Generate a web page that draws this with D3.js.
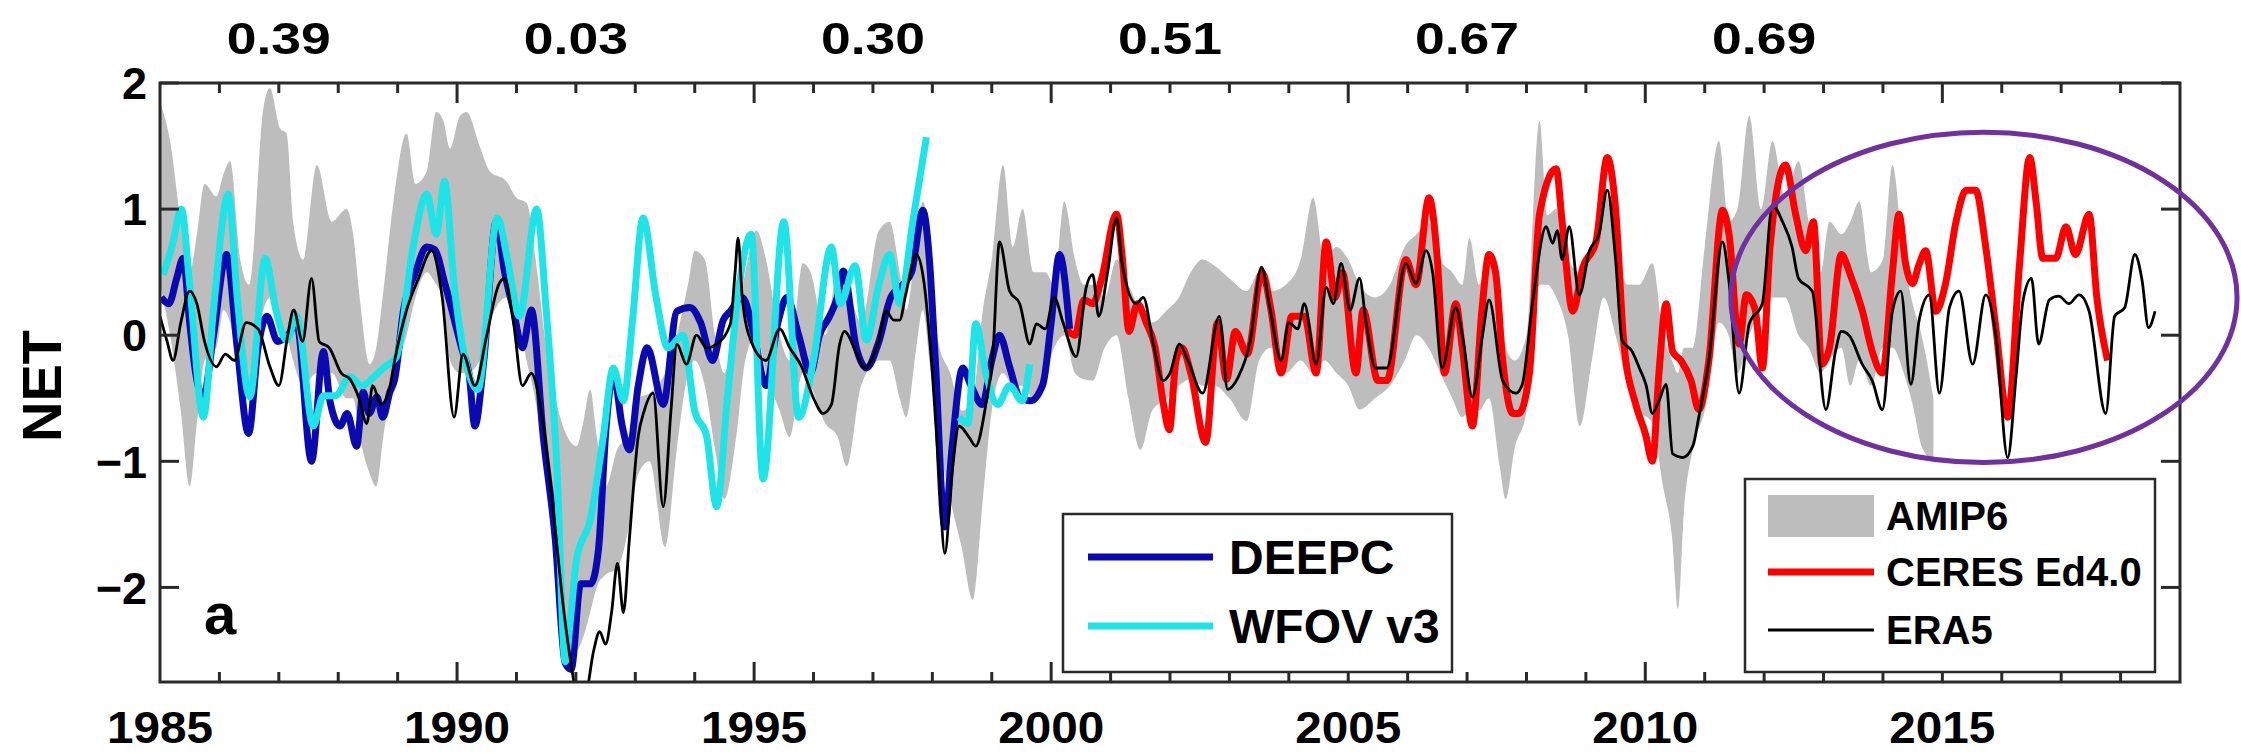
<!DOCTYPE html>
<html><head><meta charset="utf-8">
<script src="https://cdn.jsdelivr.net/npm/d3@7"></script>
<style>html,body{margin:0;padding:0;background:#fff;}svg{display:block;}</style>
</head><body>
<svg id="chart" width="2241" height="754"></svg>
<script>
// ---------------- data ----------------
const xTicks = [1985, 1990, 1995, 2000, 2005, 2010, 2015];
const yTicks = [-2, -1, 0, 1, 2];
const corrYears = [1987, 1992, 1997, 2002, 2007, 2012];
const corrLabels = ["0.39", "0.03", "0.30", "0.51", "0.67", "0.69"];

// AMIP6 ensemble range: [year, lower, upper]
const amip6 = [
[1985.0,0.4,1.85],[1985.17,0.0,1.54],[1985.35,-0.6,0.9],[1985.5,-1.2,0.5],[1985.62,-0.7,0.8],[1985.75,-0.2,1.2],
[1985.95,-0.1,1.1],[1986.07,0.2,1.28],[1986.18,0.1,1.38],[1986.35,-0.4,0.6],[1986.5,-0.5,0.4],[1986.74,0.2,1.8],
[1986.85,0.3,1.96],[1987.02,0.1,1.64],[1987.13,0.0,1.6],[1987.24,-0.2,0.9],[1987.41,-0.4,0.6],[1987.64,-0.3,1.35],
[1987.89,-0.3,0.9],[1988.14,-0.5,1.0],[1988.25,-0.5,0.8],[1988.36,-0.8,0.3],[1988.53,-1.1,-0.23],[1988.64,-1.2,-0.1],
[1988.76,-0.8,0.35],[1988.93,-0.3,1.06],[1989.15,0.0,1.6],[1989.3,0.3,1.2],[1989.49,0.5,1.3],[1989.65,0.4,1.77],
[1989.77,0.3,1.7],[1989.88,-0.2,1.48],[1990.05,-0.3,1.74],[1990.16,-0.3,1.77],[1990.38,-0.2,1.5],[1990.55,0.1,1.3],
[1990.83,0.3,1.22],[1991.0,0.2,1.09],[1991.17,-0.2,1.05],[1991.35,-0.6,0.5],[1991.5,-1.2,-0.1],[1991.68,-1.9,-0.55],
[1991.85,-2.4,-0.8],[1992.01,-2.5,-0.88],[1992.12,-2.4,-0.7],[1992.24,-2.2,-0.43],[1992.35,-2.0,-0.8],[1992.5,-1.9,-1.2],
[1992.7,-1.85,-0.9],[1992.9,-1.5,-0.8],[1993.05,-1.1,-0.5],[1993.24,-1.0,-0.46],[1993.5,-1.68,-0.3],[1993.7,-0.9,0.0],
[1993.89,-0.3,0.41],[1994.0,-0.2,0.67],[1994.17,-0.4,0.6],[1994.34,-0.9,0.0],[1994.5,-1.3,-0.3],[1994.7,-0.8,0.1],
[1994.85,-0.2,0.5],[1995.04,0.0,0.83],[1995.2,-0.3,0.6],[1995.43,-0.6,0.0],[1995.6,-0.81,-0.2],[1995.82,-0.3,0.57],
[1995.95,-0.4,0.5],[1996.2,-0.7,0.0],[1996.4,-0.8,0.5],[1996.56,-1.04,0.4],[1996.8,-0.4,0.1],[1997.1,-0.2,0.83],
[1997.28,-0.2,0.9],[1997.45,-0.5,0.5],[1997.56,-0.65,0.2],[1997.73,-0.1,0.74],[1997.84,0.2,1.06],[1997.95,-0.2,0.8],
[1998.1,-0.8,-0.05],[1998.3,-1.3,-0.3],[1998.5,-1.7,-0.6],[1998.68,-2.1,-0.5],[1998.85,-1.3,0.2],[1999.0,-0.6,0.6],
[1999.19,-0.3,1.35],[1999.35,-0.4,0.7],[1999.52,-0.4,1.0],[1999.7,-0.5,0.5],[1999.9,-0.3,0.5],[2000.05,-0.1,0.4],
[2000.22,0.0,1.06],[2000.4,-0.3,0.6],[2000.55,-0.35,0.4],[2000.7,-0.36,0.4],[2000.9,-0.1,0.3],[2001.1,0.0,0.6],
[2001.3,-0.5,0.4],[2001.5,-0.91,0.2],[2001.7,-0.6,0.1],[2001.95,-0.5,0.2],[2002.15,-0.4,0.3],[2002.35,-0.35,0.5],
[2002.55,-0.4,0.6],[2002.75,-0.4,0.55],[2003.0,-0.5,0.45],[2003.29,-0.68,0.35],[2003.5,-0.2,0.5],[2003.7,-0.1,0.35],
[2003.95,-0.3,0.4],[2004.2,-0.2,0.6],[2004.41,-0.3,1.09],[2004.6,-0.2,0.6],[2004.8,-0.3,0.7],[2005.0,-0.4,0.6],
[2005.19,-0.59,0.4],[2005.45,-0.5,0.3],[2005.7,-0.4,0.4],[2005.95,-0.2,0.7],[2006.15,0.0,0.8],[2006.35,-0.1,0.9],
[2006.55,-0.3,0.6],[2006.75,-0.5,0.5],[2006.92,-0.65,0.4],[2007.04,-0.6,0.77],[2007.2,-0.6,0.4],[2007.37,-0.5,0.6],
[2007.55,-1.04,0.3],[2007.65,-1.3,-0.1],[2007.8,-0.9,-0.2],[2008.0,-0.6,0.0],[2008.22,0.4,1.7],[2008.35,0.4,0.95],
[2008.5,0.3,1.0],[2008.7,0.0,0.6],[2008.9,-0.72,0.5],[2009.1,-0.2,0.7],[2009.3,0.3,1.2],[2009.5,0.0,0.7],
[2009.7,-0.4,0.4],[2009.9,-0.6,0.4],[2010.12,-0.7,0.57],[2010.3,-1.2,0.0],[2010.45,-1.6,-0.2],[2010.55,-2.17,-0.3],
[2010.65,-1.4,-0.1],[2010.8,-0.9,-0.1],[2011.0,-0.6,0.7],[2011.24,0.1,1.54],[2011.4,0.0,0.9],[2011.55,-0.3,1.0],
[2011.75,0.0,1.74],[2011.95,0.2,1.0],[2012.14,0.3,1.54],[2012.35,0.3,1.1],[2012.58,0.0,1.38],[2012.75,-0.1,0.9],
[2012.95,-0.3,0.5],[2013.1,-0.2,0.9],[2013.3,-0.1,0.8],[2013.45,-0.4,0.9],[2013.6,-0.2,1.06],[2013.8,-0.4,0.5],
[2014.0,-0.1,0.6],[2014.16,-0.1,1.35],[2014.35,-0.3,0.6],[2014.5,-0.55,0.25],[2014.65,-0.88,0.0],[2014.85,-1.0,-0.5]
];

// ERA5: [year, value]
const era5 = [
[1985.0,0.15],[1985.12,-0.05],[1985.22,-0.2],[1985.35,0.1],[1985.5,0.35],[1985.62,0.25],[1985.75,-0.05],[1985.95,-0.25],
[1986.1,-0.15],[1986.25,-0.2],[1986.45,0.1],[1986.65,0.05],[1986.85,-0.25],[1987.0,-0.4],[1987.15,0.0],[1987.25,0.2],
[1987.4,-0.05],[1987.55,0.45],[1987.68,-0.05],[1987.85,-0.1],[1988.05,-0.3],[1988.2,-0.35],[1988.35,-0.5],[1988.48,-0.7],
[1988.58,-0.4],[1988.72,-0.55],[1988.85,-0.45],[1988.95,-0.2],[1989.15,0.2],[1989.35,0.45],[1989.57,0.67],[1989.75,0.3],
[1989.95,-0.65],[1990.1,-0.15],[1990.3,-0.4],[1990.5,0.0],[1990.7,0.4],[1990.8,0.45],[1990.95,0.1],[1991.1,-0.4],
[1991.25,-0.3],[1991.4,-0.55],[1991.6,-1.3],[1991.8,-2.2],[1991.95,-2.7],[1992.05,-2.95],[1992.15,-2.9],[1992.3,-2.5],
[1992.4,-2.35],[1992.5,-2.45],[1992.6,-2.2],[1992.7,-1.81],[1992.8,-2.2],[1992.9,-1.62],[1993.05,-0.8],[1993.15,-0.6],
[1993.3,-0.46],[1993.47,-1.36],[1993.6,-0.6],[1993.7,-0.07],[1993.86,-0.23],[1994.03,0.0],[1994.2,-0.1],[1994.37,-0.07],
[1994.6,0.09],[1994.68,0.5],[1994.73,0.77],[1994.8,0.3],[1994.95,-0.05],[1995.2,-0.2],[1995.43,0.05],[1995.6,-0.1],
[1995.8,-0.25],[1996.0,-0.5],[1996.16,-0.62],[1996.3,-0.55],[1996.44,-0.07],[1996.52,0.03],[1996.72,-0.14],[1996.85,-0.26],
[1997.1,-0.04],[1997.22,0.19],[1997.35,0.12],[1997.45,0.12],[1997.55,0.32],[1997.73,0.64],[1997.85,0.45],[1998.0,-0.3],
[1998.1,-1.0],[1998.21,-1.73],[1998.33,-1.1],[1998.45,-0.72],[1998.62,-0.81],[1998.73,-0.88],[1998.9,-0.55],[1999.02,-0.14],
[1999.13,0.74],[1999.3,0.35],[1999.47,0.25],[1999.64,-0.07],[1999.75,0.09],[1999.9,0.05],[2000.05,0.3],[2000.2,0.1],
[2000.42,-0.17],[2000.59,0.38],[2000.7,0.48],[2000.8,0.15],[2000.95,0.5],[2001.1,0.93],[2001.2,0.55],[2001.43,0.25],
[2001.55,0.3],[2001.72,-0.07],[2001.88,-0.36],[2002.0,-0.3],[2002.16,-0.07],[2002.3,-0.2],[2002.55,-0.46],[2002.83,0.15],
[2002.97,-0.43],[2003.15,-0.33],[2003.35,-0.05],[2003.54,0.54],[2003.68,0.22],[2003.87,-0.2],[2004.0,0.1],[2004.15,0.05],
[2004.26,0.25],[2004.46,-0.23],[2004.63,0.38],[2004.75,0.25],[2004.88,0.57],[2005.03,0.2],[2005.19,0.45],[2005.3,0.1],
[2005.46,-0.26],[2005.65,-0.26],[2005.97,0.57],[2006.14,0.41],[2006.31,0.67],[2006.42,0.5],[2006.58,-0.26],[2006.81,0.22],
[2006.92,0.0],[2007.09,-0.49],[2007.26,0.0],[2007.37,0.28],[2007.6,-0.36],[2007.82,-0.46],[2007.93,-0.39],[2008.1,0.25],
[2008.33,0.86],[2008.44,0.73],[2008.52,0.83],[2008.6,0.6],[2008.72,0.86],[2008.89,0.32],[2009.06,0.67],[2009.22,0.8],
[2009.36,1.15],[2009.5,0.6],[2009.61,-0.04],[2009.78,-0.13],[2009.9,-0.26],[2010.01,-0.39],[2010.12,-0.62],[2010.23,-0.52],
[2010.35,-0.39],[2010.46,-0.94],[2010.63,-0.97],[2010.8,-0.88],[2010.9,-0.65],[2011.07,-0.2],[2011.3,0.74],[2011.41,0.42],
[2011.58,-0.46],[2011.75,0.09],[2011.97,0.25],[2012.14,1.03],[2012.31,0.9],[2012.47,0.7],[2012.58,0.45],[2012.81,0.35],
[2013.04,-0.59],[2013.2,-0.13],[2013.3,0.03],[2013.43,0.0],[2013.65,-0.23],[2013.82,-0.36],[2013.99,-0.59],[2014.16,0.19],
[2014.3,0.35],[2014.47,-0.39],[2014.61,0.12],[2014.78,0.32],[2014.95,-0.46],[2015.12,0.22],[2015.28,0.35],[2015.51,-0.23],
[2015.73,0.32],[2015.9,0.0],[2016.1,-0.97],[2016.24,-0.33],[2016.36,0.28],[2016.5,0.45],[2016.62,-0.07],[2016.8,0.28],
[2016.96,0.31],[2017.13,0.25],[2017.3,0.32],[2017.47,0.19],[2017.75,-0.62],[2017.9,0.15],[2018.07,0.22],[2018.24,0.64],
[2018.36,0.44],[2018.47,0.06],[2018.58,0.19]
];

// CERES Ed4.0
const ceres = [
[2000.25,0.05],[2000.4,0.0],[2000.55,0.28],[2000.7,0.25],[2000.85,0.45],[2001.1,0.96],[2001.2,0.6],[2001.31,0.03],
[2001.45,0.25],[2001.6,0.1],[2001.75,-0.1],[2001.88,-0.52],[2001.99,-0.75],[2002.1,-0.2],[2002.2,-0.1],[2002.35,-0.3],
[2002.6,-0.85],[2002.8,0.1],[2002.95,-0.35],[2003.1,0.03],[2003.3,-0.15],[2003.55,0.5],[2003.7,0.2],[2003.87,-0.3],
[2004.05,0.15],[2004.26,0.15],[2004.46,-0.3],[2004.63,0.74],[2004.78,0.3],[2004.9,0.5],[2005.13,-0.3],[2005.25,0.2],
[2005.5,-0.36],[2005.65,-0.36],[2005.97,0.6],[2006.14,0.4],[2006.36,1.09],[2006.5,0.6],[2006.62,-0.3],[2006.81,0.25],
[2006.92,-0.1],[2007.09,-0.72],[2007.25,0.2],[2007.37,0.64],[2007.48,0.5],[2007.6,-0.2],[2007.77,-0.62],[2007.87,-0.62],
[2008.05,-0.3],[2008.22,0.96],[2008.5,1.32],[2008.6,0.9],[2008.78,0.19],[2008.95,0.54],[2009.17,0.74],[2009.36,1.41],
[2009.5,1.0],[2009.64,-0.07],[2009.84,-0.55],[2010.0,-0.78],[2010.12,-1.0],[2010.23,-0.3],[2010.35,0.25],[2010.46,-0.13],
[2010.6,-0.2],[2010.77,-0.36],[2010.9,-0.59],[2011.07,-0.2],[2011.3,0.99],[2011.41,0.8],[2011.58,-0.07],[2011.7,0.32],
[2011.85,0.2],[2011.97,-0.26],[2012.1,0.7],[2012.36,1.35],[2012.53,0.96],[2012.7,0.67],[2012.83,0.9],[2012.97,-0.23],
[2013.1,-0.1],[2013.3,0.64],[2013.45,0.48],[2013.65,0.2],[2013.82,-0.13],[2013.99,-0.3],[2014.16,0.5],[2014.27,0.96],
[2014.38,0.57],[2014.5,0.41],[2014.6,0.55],[2014.72,0.67],[2014.89,0.19],[2015.05,0.4],[2015.23,0.9],[2015.4,1.15],
[2015.56,1.15],[2015.73,0.7],[2015.9,0.06],[2016.1,-0.65],[2016.3,0.57],[2016.47,1.41],[2016.58,1.05],[2016.69,0.61],
[2016.91,0.61],[2017.08,0.86],[2017.24,0.64],[2017.47,0.96],[2017.6,0.3],[2017.78,-0.2]
];

// DEEPC
const deepc = [
[1985.02,0.3],[1985.15,0.25],[1985.28,0.45],[1985.39,0.61],[1985.5,0.1],[1985.6,-0.3],[1985.73,-0.49],[1985.9,0.0],
[1986.12,0.64],[1986.3,-0.1],[1986.49,-0.78],[1986.65,-0.1],[1986.8,0.15],[1986.98,-0.05],[1987.15,0.0],[1987.3,0.09],
[1987.55,-1.0],[1987.75,-0.13],[1987.86,-0.52],[1988.03,-0.72],[1988.15,-0.62],[1988.31,-0.88],[1988.42,-0.45],[1988.52,-0.62],
[1988.65,-0.49],[1988.75,-0.65],[1988.87,-0.45],[1988.95,-0.35],[1989.1,0.2],[1989.3,0.5],[1989.49,0.7],[1989.62,0.68],
[1989.8,0.4],[1990.1,-0.14],[1990.2,-0.3],[1990.3,-0.72],[1990.45,-0.2],[1990.66,0.9],[1990.8,0.5],[1990.95,0.2],
[1991.1,-0.1],[1991.25,0.2],[1991.45,-0.8],[1991.65,-1.6],[1991.82,-2.6],[1991.92,-2.65],[1992.08,-1.97],[1992.25,-1.97],
[1992.38,-1.7],[1992.51,-0.72],[1992.63,-0.3],[1992.78,-0.72],[1992.9,-0.91],[1993.05,-0.4],[1993.2,-0.1],[1993.47,-0.55],
[1993.7,0.19],[1993.92,0.22],[1994.1,0.1],[1994.3,-0.2],[1994.48,0.12],[1994.6,0.19],[1994.8,0.3],[1995.0,0.0],
[1995.2,-0.4],[1995.4,0.1],[1995.55,0.3],[1995.75,0.0],[1995.95,-0.3],[1996.1,0.0],[1996.27,0.15],[1996.4,0.3],
[1996.5,0.51],[1996.72,-0.1],[1996.89,-0.26],[1997.1,-0.05],[1997.3,0.3],[1997.5,0.4],[1997.65,0.5],[1997.84,0.99],
[1997.95,0.6],[1998.05,-0.2],[1998.21,-1.52],[1998.33,-0.9],[1998.51,-0.26],[1998.65,-0.4],[1998.84,-0.55],[1999.0,-0.2],
[1999.13,0.0],[1999.3,-0.25],[1999.47,-0.49],[1999.65,-0.52],[1999.86,-0.39],[2000.0,0.1],[2000.14,0.64],[2000.31,0.05]
];

// WFOV v3 (two segments)
const wfovA = [
[1985.05,0.48],[1985.2,0.7],[1985.36,1.0],[1985.5,0.4],[1985.73,-0.65],[1985.9,0.2],[1986.15,1.12],[1986.3,0.3],
[1986.51,-0.49],[1986.77,0.61],[1986.95,0.2],[1987.13,-0.04],[1987.3,0.15],[1987.58,-0.72],[1987.75,-0.48],[1987.95,-0.48],
[1988.2,-0.33],[1988.4,-0.4],[1988.6,-0.33],[1988.76,-0.26],[1988.98,-0.17],[1989.26,0.7],[1989.49,1.12],[1989.65,0.8],
[1989.79,1.22],[1989.95,0.4],[1990.1,-0.1],[1990.35,-0.43],[1990.68,0.93],[1990.85,0.6],[1991.05,0.15],[1991.34,1.0],
[1991.5,0.2],[1991.68,-1.04],[1991.82,-2.59],[1991.92,-2.2],[1992.01,-1.78],[1992.25,-1.45],[1992.46,-0.81],[1992.63,-0.26],
[1992.8,-0.52],[1992.95,0.1],[1993.13,0.93],[1993.35,0.3],[1993.55,-0.1],[1993.8,0.0],[1994.0,-0.6],[1994.2,-0.8],
[1994.37,-1.36],[1994.55,-0.5],[1994.75,0.4],[1994.95,0.8],[1995.15,-1.14],[1995.5,0.9],[1995.75,-0.65],[1996.0,-0.2],
[1996.3,0.7],[1996.45,0.25],[1996.7,0.55],[1996.89,-0.04],[1997.1,0.4],[1997.28,0.64],[1997.45,0.25],[1997.67,0.9],
[1997.9,1.57]
];
const wfovB = [
[1998.45,-0.65],[1998.6,-0.7],[1998.73,0.09],[1998.9,-0.3],[1999.1,-0.55],[1999.3,-0.4],[1999.51,-0.52],[1999.64,-0.23]
];

// annotation ellipse (data units): centre year, centre value, half-width (years), half-height (units)
const ellipseSpec = [2015.70, 0.30, 4.26, 1.31];

// ---------------- drawing ----------------
const svg = d3.select("#chart");
const L = 160, R = 2180, T = 83, B = 682;
const x = d3.scaleLinear().domain([1985, 2019]).range([L, R]);
const y = d3.scaleLinear().domain([-2.75, 2]).range([B, T]);
const font = "'Liberation Sans', Arial, Helvetica, sans-serif";

svg.append("defs").append("clipPath").attr("id", "clip")
  .append("rect").attr("x", L).attr("y", T).attr("width", R - L).attr("height", B - T);

const plot = svg.append("g").attr("clip-path", "url(#clip)");
const curve = d3.curveMonotoneX;

plot.append("path").datum(amip6)
  .attr("d", d3.area().x(d => x(d[0])).y0(d => y(d[1])).y1(d => y(d[2])).curve(curve))
  .attr("fill", "#bdbdbd");

const line = d3.line().x(d => x(d[0])).y(d => y(d[1])).curve(curve);
plot.append("path").datum(ceres).attr("d", line).attr("fill", "none")
  .attr("stroke", "#ff0000").attr("stroke-width", 7).attr("stroke-linejoin", "round");
plot.append("path").datum(deepc).attr("d", line).attr("fill", "none")
  .attr("stroke", "#0a0ab0").attr("stroke-width", 7).attr("stroke-linejoin", "round");
[wfovA, wfovB].forEach(s => plot.append("path").datum(s).attr("d", line).attr("fill", "none")
  .attr("stroke", "#1ee4e8").attr("stroke-width", 7).attr("stroke-linejoin", "round"));
plot.append("path").datum(era5).attr("d", line).attr("fill", "none")
  .attr("stroke", "#000").attr("stroke-width", 2.8).attr("stroke-linejoin", "round");

// frame
svg.append("rect").attr("x", L).attr("y", T).attr("width", R - L).attr("height", B - T)
  .attr("fill", "none").attr("stroke", "#2a2a2a").attr("stroke-width", 3);

// ticks (inward)
const tickG = svg.append("g").attr("stroke", "#2a2a2a").attr("stroke-width", 3);
d3.range(1986, 2019).forEach(yr => {
  const major = yr % 5 === 0;
  const len = major ? 20 : 10;
  tickG.append("line").attr("x1", x(yr)).attr("x2", x(yr)).attr("y1", T).attr("y2", T + len);
  tickG.append("line").attr("x1", x(yr)).attr("x2", x(yr)).attr("y1", B).attr("y2", B - len);
});
yTicks.forEach(v => {
  tickG.append("line").attr("x1", L).attr("x2", L + 19).attr("y1", y(v)).attr("y2", y(v));
  tickG.append("line").attr("x1", R).attr("x2", R - 19).attr("y1", y(v)).attr("y2", y(v));
});

// tick labels
svg.append("g").selectAll("text").data(xTicks).join("text")
  .attr("x", d => x(d)).attr("y", 743).attr("text-anchor", "middle")
  .attr("font-family", font).attr("font-weight", "bold").attr("font-size", 44)
  .attr("textLength", 106).attr("lengthAdjust", "spacingAndGlyphs")
  .text(d => d);
svg.append("g").selectAll("text").data(yTicks).join("text")
  .attr("x", 147).attr("y", d => y(d)).attr("dy", "0.36em").attr("text-anchor", "end")
  .attr("font-family", font).attr("font-weight", "bold").attr("font-size", 45)
  .text(d => d < 0 ? "\u2212" + Math.abs(d) : d);
svg.append("g").selectAll("text").data(corrYears).join("text")
  .attr("x", d => x(d)).attr("y", 54).attr("text-anchor", "middle")
  .attr("font-family", font).attr("font-weight", "bold").attr("font-size", 44)
  .attr("textLength", 104).attr("lengthAdjust", "spacingAndGlyphs")
  .text((d, i) => corrLabels[i]);

// y axis title
svg.append("text").attr("transform", "translate(61,386) rotate(-90)")
  .attr("text-anchor", "middle").attr("font-family", font).attr("font-weight", "bold")
  .attr("font-size", 56).text("NET");

// panel label
svg.append("text").attr("x", 204).attr("y", 634).attr("font-family", font)
  .attr("font-weight", "bold").attr("font-size", 58).text("a");

// legend 1
const lg1 = svg.append("g");
lg1.append("rect").attr("x", 1063).attr("y", 514).attr("width", 389).attr("height", 158)
  .attr("fill", "#fff").attr("stroke", "#2a2a2a").attr("stroke-width", 2.5);
[["DEEPC", "#0a0ab0", 557], ["WFOV v3", "#1ee4e8", 626]].forEach(([t, c, yy]) => {
  lg1.append("line").attr("x1", 1088).attr("x2", 1213).attr("y1", yy).attr("y2", yy)
    .attr("stroke", c).attr("stroke-width", 7);
  lg1.append("text").attr("x", 1229).attr("y", yy).attr("dy", "0.36em")
    .attr("font-family", font).attr("font-weight", "bold").attr("font-size", 48).text(t);
});

// legend 2
const lg2 = svg.append("g");
lg2.append("rect").attr("x", 1745).attr("y", 479).attr("width", 410).attr("height", 193)
  .attr("fill", "#fff").attr("stroke", "#2a2a2a").attr("stroke-width", 2.5);
lg2.append("rect").attr("x", 1768).attr("y", 495).attr("width", 106).attr("height", 42).attr("fill", "#bdbdbd");
lg2.append("line").attr("x1", 1768).attr("x2", 1874).attr("y1", 572).attr("y2", 572)
  .attr("stroke", "#ff0000").attr("stroke-width", 7);
lg2.append("line").attr("x1", 1768).attr("x2", 1874).attr("y1", 630).attr("y2", 630)
  .attr("stroke", "#000").attr("stroke-width", 2.8);
[["AMIP6", 516], ["CERES Ed4.0", 572], ["ERA5", 630]].forEach(([t, yy]) => {
  lg2.append("text").attr("x", 1886).attr("y", yy).attr("dy", "0.36em")
    .attr("font-family", font).attr("font-weight", "bold").attr("font-size", 40).text(t);
});

// annotation ellipse
svg.append("ellipse")
  .attr("cx", x(ellipseSpec[0])).attr("cy", y(ellipseSpec[1]))
  .attr("rx", x(ellipseSpec[0] + ellipseSpec[2]) - x(ellipseSpec[0]))
  .attr("ry", y(ellipseSpec[1] - ellipseSpec[3]) - y(ellipseSpec[1]))
  .attr("fill", "none").attr("stroke", "#7030a0").attr("stroke-width", 5);
</script>
</body></html>
